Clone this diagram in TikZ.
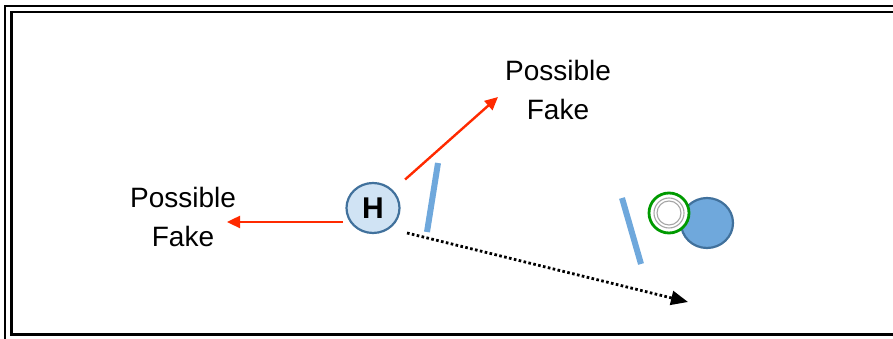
\documentclass[tikz,border=0pt]{standalone}
\usepackage{fontspec}
\setmainfont{Liberation Sans}
\usetikzlibrary{arrows.meta,shapes.geometric}
\definecolor{hfill}{HTML}{D0E3F4}
\definecolor{hedge}{HTML}{41719C}
\definecolor{barblue}{HTML}{6FA8DC}
\definecolor{fakered}{HTML}{FF2A00}
\definecolor{ringgreen}{HTML}{009A00}
\tikzset{
  fakelabel/.style={align=center, inner sep=0pt, font=\fontsize{28}{39.5}\selectfont},
  fakearrow/.style={draw=fakered, line width=2.4pt, -{Triangle[length=13pt,width=12pt]}},
  pathdots/.style={line width=2.8pt, dash pattern=on 2.6pt off 2.4pt, -{Triangle[length=17pt,width=14pt]}},
  wallbar/.style={draw=barblue, line width=6pt},
}
\begin{document}
\begin{tikzpicture}[x=1pt, y=1pt]
  \useasboundingbox (0,0) rectangle (893,339);
  \clip (0,0) rectangle (893,339);
  \draw[line width=2pt] (4.5,333) rectangle (905,-5);
  \draw[line width=2.6pt] (11.5,327) rectangle (899,4.5);
  \node[ellipse, draw=hedge, line width=2.2pt, fill=hfill, minimum width=53pt, minimum height=50pt, inner sep=0pt, font=\fontsize{30}{32}\selectfont\bfseries] (h) at (373,131) {H};
  \node[fakelabel] (fakeleft) at (183,122) {Possible\\Fake};
  \node[fakelabel] (fakeup) at (558,249) {Possible\\Fake};
  \coordinate (leftstart) at (343,117);
  \coordinate (lefttip) at (227,117);
  \coordinate (uptip) at (498,242);
  \coordinate (dotstart) at (407,106);
  \coordinate (dottip) at (688,37);
  \draw[fakearrow] (leftstart) -- (lefttip);
  \draw[fakearrow, shorten <=16pt] (h) -- (uptip);
  \draw[pathdots] (dotstart) -- (dottip);
  \draw[wallbar] (438,176) -- (427,107);
  \draw[wallbar] (622,141) -- (641,75);
  \node[ellipse, draw=hedge, line width=2.2pt, fill=barblue, minimum width=52pt, minimum height=50pt] (far) at (707,116) {};
  \node[circle, draw=ringgreen, line width=2.8pt, fill=white, minimum size=40pt, inner sep=0pt] (ring) at (669,126) {};
  \draw[gray!70, line width=1.1pt] (ring) circle (15) (ring) circle (12);
\end{tikzpicture}
\end{document}
